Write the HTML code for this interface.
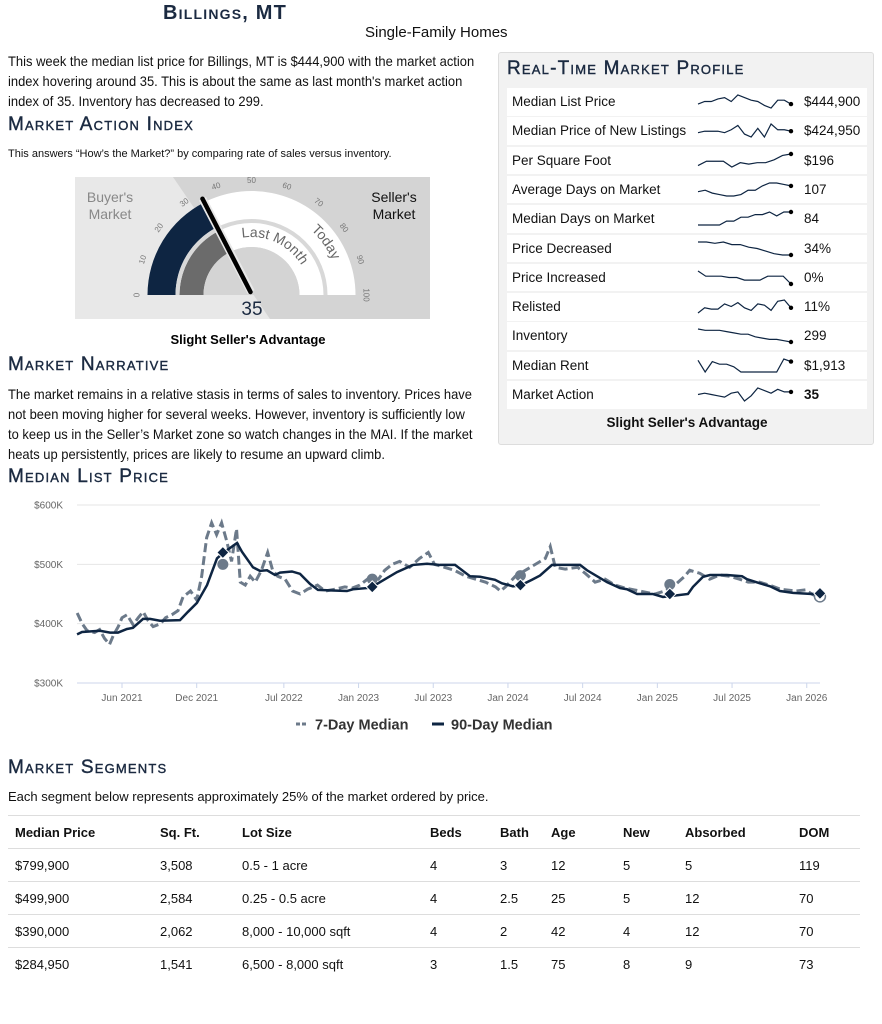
<!DOCTYPE html>
<html><head><meta charset="utf-8">
<style>
*{margin:0;padding:0;box-sizing:border-box}
body{width:882px;height:1024px;background:#fff;position:relative;font-family:"Liberation Sans",sans-serif;color:#111;overflow:hidden}
.abs{position:absolute}
.h{font-variant:small-caps;color:#1b2a41;letter-spacing:1.2px;font-weight:bold;white-space:nowrap}
.p{font-size:14px;line-height:20px;white-space:nowrap;transform:scaleX(0.925);transform-origin:left top}
#panel{left:498px;top:52px;width:376px;height:393px;background:#f2f2f2;border:1px solid #ddd;border-radius:3px}
.row{position:absolute;left:8px;width:360px;height:27.5px;background:#fff;font-size:13.5px}
.row .l{position:absolute;left:5px;top:6px}
.row .v{position:absolute;left:297px;top:6px}
table{position:absolute;left:8px;top:815px;width:852px;border-collapse:collapse;font-size:13px}
td,th{height:33px;text-align:left;border-top:1px solid #ddd;padding:0;font-weight:normal}
th{font-weight:bold}
</style></head><body>
<div class="abs h" style="left:163px;top:2px;font-size:20px">Billings, MT</div>
<div class="abs" style="left:365px;top:24px;font-size:15px">Single-Family Homes</div>
<div class="abs p" style="left:8px;top:51px">This week the median list price for Billings, MT is $444,900 with the market action<br>index hovering around 35. This is about the same as last month's market action<br>index of 35. Inventory has decreased to 299.</div>
<div class="abs h" style="left:8px;top:114px;font-size:19px;font-weight:normal;-webkit-text-stroke:0.4px #1b2a41">Market Action Index</div>
<div class="abs" style="left:8px;top:148px;font-size:11px">This answers “How’s the Market?” by comparing rate of sales versus inventory.</div>

<svg class="abs" style="left:0;top:0" width="440" height="350">
<rect x="75" y="177" width="355" height="142" fill="#e8e8e8"/>
<polygon points="173,177 430,177 430,319 270,319" fill="#d4d4d4"/>
<g id="gauge"></g>
<text x="110" y="202" font-size="14" fill="#888" text-anchor="middle" font-family="Liberation Sans">Buyer's</text>
<text x="110" y="219" font-size="14" fill="#888" text-anchor="middle" font-family="Liberation Sans">Market</text>
<text x="394" y="202" font-size="14" fill="#111" text-anchor="middle" font-family="Liberation Sans">Seller's</text>
<text x="394" y="219" font-size="14" fill="#111" text-anchor="middle" font-family="Liberation Sans">Market</text>
<text x="252" y="315" font-size="19" fill="#1b2a41" text-anchor="middle" font-family="Liberation Sans">35</text>
<text x="248" y="344" font-size="13" font-weight="bold" text-anchor="middle" font-family="Liberation Sans">Slight Seller's Advantage</text>
</svg>

<div class="abs h" style="left:8px;top:354px;font-size:19px;font-weight:normal;-webkit-text-stroke:0.4px #1b2a41">Market Narrative</div>
<div class="abs p" style="left:8px;top:384px">The market remains in a relative stasis in terms of sales to inventory. Prices have<br>not been moving higher for several weeks. However, inventory is sufficiently low<br>to keep us in the Seller’s Market zone so watch changes in the MAI. If the market<br>heats up persistently, prices are likely to resume an upward climb.</div>

<div class="abs" id="panel">
<div class="abs h" style="left:8px;top:5px;font-size:19px;font-weight:normal;-webkit-text-stroke:0.4px #1b2a41">Real-Time Market Profile</div>
<div id="rows"></div>
<div class="abs" style="left:0;width:376px;text-align:center;top:362px;font-size:13.5px;font-weight:bold">Slight Seller's Advantage</div>
</div>

<div class="abs h" style="left:8px;top:466px;font-size:19px;font-weight:normal;-webkit-text-stroke:0.4px #1b2a41">Median List Price</div>
<svg class="abs" style="left:0;top:0" width="882" height="740" id="chart"></svg>

<div class="abs h" style="left:8px;top:757px;font-size:19px;font-weight:normal;-webkit-text-stroke:0.4px #1b2a41">Market Segments</div>
<div class="abs" style="left:8px;top:789px;font-size:13px">Each segment below represents approximately 25% of the market ordered by price.</div>
<table>
<colgroup><col style="width:152px"><col style="width:82px"><col style="width:188px"><col style="width:70px"><col style="width:51px"><col style="width:72px"><col style="width:62px"><col style="width:114px"><col></colgroup>
<tr><th style="padding-left:7px">Median Price</th><th>Sq. Ft.</th><th>Lot Size</th><th>Beds</th><th>Bath</th><th>Age</th><th>New</th><th>Absorbed</th><th>DOM</th></tr>
<tr><td style="padding-left:7px">$799,900</td><td>3,508</td><td>0.5 - 1 acre</td><td>4</td><td>3</td><td>12</td><td>5</td><td>5</td><td>119</td></tr>
<tr><td style="padding-left:7px">$499,900</td><td>2,584</td><td>0.25 - 0.5 acre</td><td>4</td><td>2.5</td><td>25</td><td>5</td><td>12</td><td>70</td></tr>
<tr><td style="padding-left:7px">$390,000</td><td>2,062</td><td>8,000 - 10,000 sqft</td><td>4</td><td>2</td><td>42</td><td>4</td><td>12</td><td>70</td></tr>
<tr><td style="padding-left:7px">$284,950</td><td>1,541</td><td>6,500 - 8,000 sqft</td><td>3</td><td>1.5</td><td>75</td><td>8</td><td>9</td><td>73</td></tr>
</table>

<script>
const NS="http://www.w3.org/2000/svg";
// ---- gauge data
const maiToday=35;
const maiLastMonth=35;
const gaugeTicks=[0,10,20,30,40,50,60,70,80,90,100];
// ---- sparkline data
const profileLabels=["Median List Price","Median Price of New Listings","Per Square Foot","Average Days on Market","Median Days on Market","Price Decreased","Price Increased","Relisted","Inventory","Median Rent","Market Action"];
const profileValues=["$444,900","$424,950","$196","107","84","34%","0%","11%","299","$1,913","35"];
const sparkMLP=[3,5,5,7,8,5,10,8,6,5,2,0,6,6,3];
const sparkNew=[3,4,4,4,3,5,8,2,0,6,0,9,5,5,4];
const sparkPSF=[2,5,5,5,1,4,3,4,4,6,9,10];
const sparkADOM=[4,5,3,2,1,1,2,5,5,8,10,10,9,8];
const sparkMDOM=[0,0,0,0,3,3,6,6,8,8,10,7,10,10];
const sparkPD=[10,10,9,10,8,8,6,5,3,1,0,0];
const sparkPI=[10,6,6,6,5,5,3,3,3,6,6,6,0];
const sparkRel=[0,4,3,3,7,5,8,4,2,7,6,2,9,10,4];
const sparkInv=[10,9,9,9,8,7,6,6,4,3,2,2,1,0];
const sparkRent=[9,0,8,6,6,4,0,0,0,0,0,0,10,8];
const sparkMAI=[5,6,5,4,3,6,7,0,4,10,8,6,9,7,7];
const sparks=[sparkMLP,sparkNew,sparkPSF,sparkADOM,sparkMDOM,sparkPD,sparkPI,sparkRel,sparkInv,sparkRent,sparkMAI];
// ---- chart data (months since Jan 2021, values in $K)
const yTicks=[300,400,500,600];
const xTickLabels=["Jun 2021","Dec 2021","Jul 2022","Jan 2023","Jul 2023","Jan 2024","Jul 2024","Jan 2025","Jul 2025","Jan 2026"];
const xTickMonths=[5,11,18,24,30,36,42,48,54,60];
const m90=[1.39,1.79,3.23,4.04,4.68,5.4,5.88,6.69,7.25,8.05,9.66,10.3,11.02,11.83,12.63,13.11,14.24,14.64,15.52,16.08,16.65,17.29,17.69,18.65,19.3,20.1,20.74,21.95,23.07,23.55,24.68,25.08,25.72,27.09,28.37,29.5,30.54,31.75,32.95,33.76,34.96,35.52,36.4,37.05,37.93,38.57,39.54,41.79,42.35,43.96,45.0,45.56,46.37,47.65,48.45,50.46,50.86,51.67,52.23,53.59,54.8,55.2,56.24,57.05,57.85,58.9,60.42,61.06];
const v90=[382,386,388,385,385,391,393,408,408,405,406,420,435,465,510,519,536,521,495,489,490,482,486,488,484,467,457,456,455,458,460,462,470,487,499,501,499,499,480,479,474,468,463,465,474,481,499,499,490,470,460,458,450,450,445,450,462,479,482,482,480,475,468,463,455,452,450,450];
const m7=[1.4,1.8,2.2,2.8,3.2,3.6,4.0,4.3,4.7,5.0,5.4,5.9,6.3,6.7,7.1,7.5,8.1,8.5,9.0,9.5,9.9,10.5,11.0,11.4,11.8,12.2,12.6,13.0,13.4,13.8,14.2,14.5,14.9,15.3,15.7,16.2,16.7,17.1,17.5,18.1,18.7,19.3,19.9,20.7,21.3,22.1,22.9,23.5,24.1,24.9,25.6,26.1,26.7,27.3,28.1,28.9,29.6,30.1,30.9,31.7,32.6,33.4,34.2,35.0,35.4,35.8,36.6,37.0,37.8,39.0,39.4,39.8,40.6,41.6,42.2,43.0,43.8,44.6,45.4,46.6,47.8,48.6,49.4,50.2,50.6,51.4,52.2,53.0,53.8,54.6,55.3,56.2,57.0,57.9,59.1,59.9,60.4,60.9];
const v7=[418,400,388,385,390,375,365,380,395,410,415,398,410,420,405,395,400,410,415,422,445,455,440,480,545,570,550,570,540,505,560,470,465,480,470,490,520,490,480,475,455,450,458,465,455,458,462,460,465,478,475,490,500,505,495,510,520,500,495,490,480,475,470,462,455,462,480,485,495,510,530,495,492,495,485,470,475,465,460,455,450,455,465,480,490,485,475,482,480,475,470,470,465,458,455,457,450,445];
const markerMonths=[13.1,25.1,37.0,49.0,61.06];
const marker90=[520,462,465,450,451];
const marker7=[500,475,481,466,446];

function el(tag,attrs,parent){const e=document.createElementNS(NS,tag);for(const k in attrs)e.setAttribute(k,attrs[k]);parent.appendChild(e);return e;}

// ---- gauge
(function(){
const g=document.getElementById('gauge');const cx=251.5,cy=295;
const ang=v=>Math.PI*(1-v/100);
const P=(r,v)=>[cx+r*Math.cos(ang(v)),cy-r*Math.sin(ang(v))];
function band(r0,r1,a,b,fill,name){const p0=P(r1,a),p1=P(r1,b),p2=P(r0,b),p3=P(r0,a);
const e=el('path',{d:`M${p0}A${r1},${r1} 0 0 1 ${p1}L${p2}A${r0},${r0} 0 0 0 ${p3}Z`,fill:fill},g);
return e;}
band(48,104,0,100,'#fff','gauge-track');
band(76,104,0,maiToday,'#0e2542','today-fill');
band(48,72,0,maiLastMonth,'#6b6b6b','last-month-fill');
band(72,76,0,100,'#d8d8d8','band-separator');
band(0.01,48,0,100,'#d4d4d4','gauge-hub');
gaugeTicks.forEach(t=>{const [x,y]=P(114,t);const tx=el('text',{x:x,y:y,'font-size':8,fill:'#777','text-anchor':'middle','dominant-baseline':'middle','font-family':'Liberation Sans',transform:`rotate(${90-180*(1-t/100)} ${x} ${y})`},g);tx.textContent=t;
});
const d1=el('defs',{},g);
el('path',{id:'arcLM',d:`M${P(58,40)}A58,58 0 0 1 ${P(58,100)}`},d1);
el('path',{id:'arcT',d:`M${P(88,70)}A88,88 0 0 1 ${P(88,100)}`},d1);
const t1=el('text',{'font-size':14,fill:'#666','font-family':'Liberation Sans'},g);
const tp1=el('textPath',{href:'#arcLM',startOffset:'8%'},t1);tp1.textContent='Last Month';
const t2=el('text',{'font-size':14,fill:'#666','font-family':'Liberation Sans'},g);
const tp2=el('textPath',{href:'#arcT',startOffset:'12%'},t2);tp2.textContent='Today';
const [nx,ny]=P(108,maiToday);
el('line',{x1:cx-0.5,y1:cy-3,x2:nx,y2:ny,stroke:'#e8e8e8','stroke-width':8},g);
const nd=el('line',{x1:cx-1,y1:cy-3,x2:nx,y2:ny,stroke:'#000','stroke-width':4.5,'stroke-linecap':'round'},g);


})();

// ---- profile rows
(function(){
const rows=document.getElementById('rows');
profileLabels.forEach((lab,i)=>{
const r=document.createElement('div');r.className='row';r.style.top=(35+i*29.3)+'px';


r.innerHTML=`<span class="l">${lab}</span><span class="v"${i==10?' style="font-weight:bold"':''}>${profileValues[i]}</span>`;
const s=document.createElementNS(NS,'svg');s.setAttribute('width',100);s.setAttribute('height',28);s.style.position='absolute';s.style.left='189px';s.style.top='0';


const d=sparks[i];const mn=Math.min(...d),mx=Math.max(...d);
const px=j=>2+j*93/(d.length-1),py=v=>20-(v-mn)/(mx-mn||1)*13;
el('polyline',{points:d.map((v,j)=>px(j)+','+py(v)).join(' '),fill:'none',stroke:'#0e2542','stroke-width':1.2},s);
el('circle',{cx:px(d.length-1),cy:py(d[d.length-1]),r:2.2,fill:'#000'},s);
r.appendChild(s);rows.appendChild(r);});
})();

// ---- chart
(function(){
const s=document.getElementById('chart');
const X=m=>122+(m-5)*12.45, Y=v=>683-(v-300)*0.5933;
yTicks.forEach(t=>{el('line',{x1:77,x2:820,y1:Y(t),y2:Y(t),stroke:t==300?'#ccd6eb':'#e6e6e6','stroke-width':1},s);
const tx=el('text',{x:63,y:Y(t)+3.5,'font-size':10,fill:'#666','text-anchor':'end','font-family':'Liberation Sans'},s);tx.textContent='$'+t+'K';
});
xTickMonths.forEach((m,i)=>{el('line',{x1:X(m),x2:X(m),y1:683,y2:688,stroke:'#ccd6eb'},s);
const tx=el('text',{x:X(m),y:701,'font-size':10,fill:'#666','text-anchor':'middle','font-family':'Liberation Sans'},s);tx.textContent=xTickLabels[i];
});
const l7=el('polyline',{points:m7.map((m,i)=>X(m)+','+Y(v7[i])).join(' '),fill:'none',stroke:'#6c7a8a','stroke-width':3,'stroke-dasharray':'9,4'},s);


const l90=el('polyline',{points:m90.map((m,i)=>X(m)+','+Y(v90[i])).join(' '),fill:'none',stroke:'#0e2542','stroke-width':2.5},s);


markerMonths.forEach((m,i)=>{const last=i==markerMonths.length-1;
const c=el('circle',{cx:X(m),cy:Y(marker7[i]),r:5.5,fill:last?'#fff':'#6c7a8a',stroke:last?'#6c7a8a':'none','stroke-width':1.5},s);

const x=X(m),y=Y(marker90[i]);
const d=el('polygon',{points:`${x},${y-6} ${x+6},${y} ${x},${y+6} ${x-6},${y}`,fill:'#0e2542',stroke:'#fff','stroke-width':1},s);
});
el('line',{x1:296,x2:306,y1:724,y2:724,stroke:'#6c7a8a','stroke-width':3,'stroke-dasharray':'4,2'},s);
const a=el('text',{x:315,y:729.5,'font-size':14.5,'font-weight':'bold',fill:'#333','font-family':'Liberation Sans'},s);a.textContent='7-Day Median';

el('line',{x1:432,x2:444,y1:724,y2:724,stroke:'#0e2542','stroke-width':3},s);
const b=el('text',{x:451,y:729.5,'font-size':14.5,'font-weight':'bold',fill:'#333','font-family':'Liberation Sans'},s);b.textContent='90-Day Median';

})();
</script>
</body></html>
